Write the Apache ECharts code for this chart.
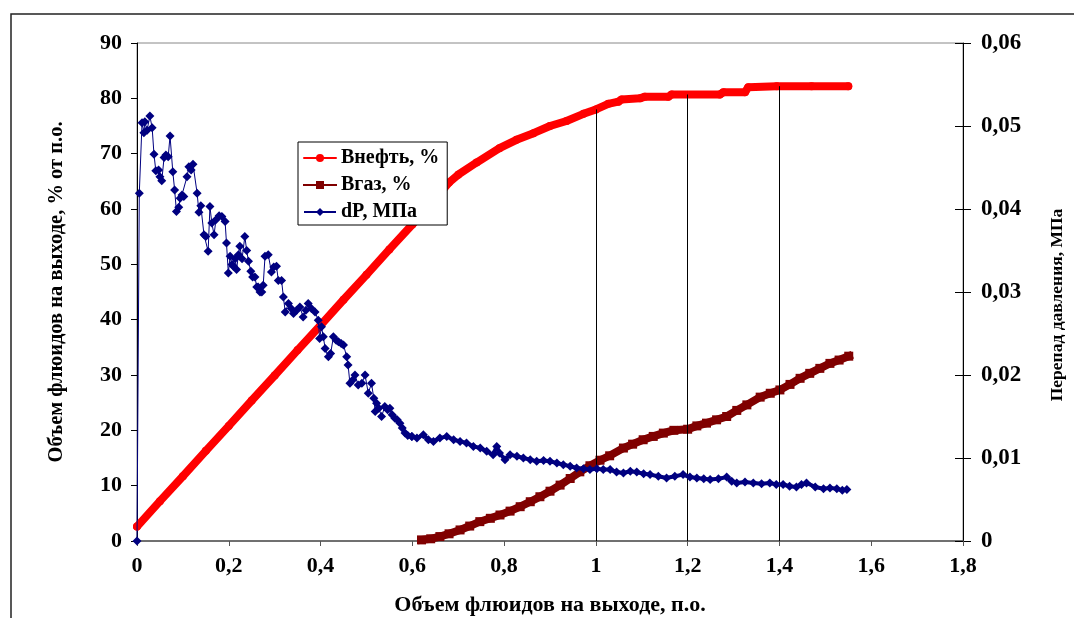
<!DOCTYPE html>
<html>
<head>
<meta charset="utf-8">
<script src="https://cdn.jsdelivr.net/npm/echarts@6/dist/echarts.min.js"></script>
<style>
  html, body { margin: 0; padding: 0; background: #fff; }
  #chart { width: 1074px; height: 618px; }
</style>
</head>
<body>
<div id="chart"></div>
<script>
// oil recovery, % (left axis)
const oilX = [0, 0.05, 0.1, 0.15, 0.2, 0.25, 0.3, 0.35, 0.4, 0.45, 0.5, 0.55, 0.6, 0.65, 0.68, 0.7, 0.74, 0.79, 0.827, 0.864, 0.9, 0.936, 0.973, 1.0, 1.027, 1.049, 1.056, 1.096, 1.107, 1.158, 1.165, 1.27, 1.278, 1.325, 1.332, 1.394, 1.47, 1.55];
const oilY = [2.6, 7.2, 11.7, 16.3, 20.8, 25.4, 29.9, 34.5, 39.0, 43.6, 48.1, 52.7, 57.2, 61.8, 64.8, 66.2, 68.4, 71.0, 72.5, 73.7, 75.0, 75.9, 77.2, 78.0, 79.0, 79.4, 79.8, 80.0, 80.3, 80.3, 80.7, 80.7, 81.1, 81.1, 82.0, 82.2, 82.2, 82.2];

// gas, % (left axis)
const gasX = [0.62, 0.64, 0.66, 0.68, 0.704, 0.725, 0.747, 0.77, 0.791, 0.813, 0.835, 0.857, 0.878, 0.9, 0.922, 0.944, 0.965, 0.987, 1.009, 1.03, 1.06, 1.08, 1.103, 1.125, 1.147, 1.17, 1.2, 1.22, 1.241, 1.263, 1.285, 1.307, 1.329, 1.358, 1.38, 1.401, 1.423, 1.445, 1.466, 1.488, 1.51, 1.53, 1.551];
const gasY = [0.2, 0.4, 0.8, 1.3, 2.0, 2.7, 3.5, 4.1, 4.7, 5.4, 6.2, 7.1, 8.0, 9.0, 10.1, 11.3, 12.5, 13.6, 14.6, 15.4, 16.8, 17.5, 18.3, 18.9, 19.5, 20.0, 20.2, 20.8, 21.3, 21.9, 22.5, 23.6, 24.6, 26.0, 26.7, 27.3, 28.3, 29.4, 30.3, 31.2, 32.1, 32.7, 33.4];

// pressure drop, MPa (right axis) - noisy first part
const dpX1 = [0, 0.005, 0.011, 0.015, 0.017, 0.022, 0.028, 0.033, 0.037, 0.041, 0.047, 0.05, 0.054, 0.059, 0.063, 0.068, 0.072, 0.078, 0.082, 0.086, 0.091, 0.094, 0.098, 0.102, 0.109, 0.113, 0.118, 0.122, 0.131, 0.135, 0.139, 0.146, 0.15, 0.155, 0.159, 0.163, 0.168, 0.172, 0.179, 0.185, 0.192, 0.195, 0.199, 0.203, 0.207, 0.21, 0.214, 0.217, 0.221, 0.224, 0.229, 0.235, 0.239, 0.243, 0.248, 0.252, 0.257, 0.261, 0.264, 0.268, 0.272, 0.275, 0.279, 0.286, 0.293, 0.298, 0.304, 0.308, 0.315, 0.319, 0.323, 0.33, 0.336, 0.341, 0.348, 0.355, 0.362, 0.368, 0.373, 0.38, 0.388, 0.395, 0.398, 0.402, 0.406, 0.41, 0.417, 0.422, 0.428, 0.434, 0.439, 0.445, 0.45, 0.457, 0.46, 0.464, 0.47, 0.475, 0.482, 0.49, 0.497, 0.504, 0.511, 0.516, 0.519, 0.522, 0.527, 0.533, 0.54, 0.546, 0.551, 0.556, 0.562, 0.567, 0.573, 0.578, 0.584, 0.59, 0.599];
const dpY1 = [0, 0.0419, 0.0504, 0.0492, 0.0505, 0.0495, 0.0512, 0.0498, 0.0466, 0.0446, 0.0447, 0.0439, 0.0434, 0.0462, 0.0465, 0.0463, 0.0488, 0.0445, 0.0423, 0.0397, 0.0402, 0.0413, 0.0417, 0.0415, 0.0439, 0.0451, 0.0447, 0.0454, 0.0419, 0.0396, 0.0404, 0.0369, 0.0367, 0.0349, 0.0403, 0.0383, 0.0369, 0.0387, 0.0392, 0.0391, 0.0385, 0.0359, 0.0323, 0.0343, 0.0333, 0.0331, 0.034, 0.0327, 0.0345, 0.0355, 0.034, 0.0367, 0.035, 0.0337, 0.0325, 0.0318, 0.0318, 0.0306, 0.0306, 0.03, 0.03, 0.0308, 0.0343, 0.0345, 0.0324, 0.033, 0.0331, 0.0314, 0.0314, 0.0294, 0.0276, 0.0286, 0.028, 0.0274, 0.0278, 0.0282, 0.027, 0.0278, 0.0286, 0.028, 0.0276, 0.0266, 0.0244, 0.0258, 0.0246, 0.0232, 0.0222, 0.0226, 0.0246, 0.0242, 0.024, 0.0238, 0.0236, 0.0222, 0.0212, 0.019, 0.0194, 0.02, 0.0188, 0.019, 0.02, 0.0178, 0.019, 0.0172, 0.0156, 0.0166, 0.016, 0.015, 0.0162, 0.0158, 0.016, 0.0152, 0.0148, 0.0146, 0.0142, 0.0136, 0.013, 0.0127, 0.0126];
// pressure drop - dense, smoother tail
const dpX2 = [0.599, 0.61, 0.624, 0.635, 0.646, 0.66, 0.675, 0.69, 0.704, 0.718, 0.733, 0.748, 0.762, 0.776, 0.784, 0.79, 0.802, 0.813, 0.828, 0.842, 0.857, 0.871, 0.886, 0.9, 0.915, 0.929, 0.944, 0.958, 0.973, 0.987, 1.002, 1.016, 1.031, 1.045, 1.06, 1.075, 1.089, 1.104, 1.118, 1.136, 1.154, 1.172, 1.19, 1.205, 1.22, 1.235, 1.249, 1.267, 1.285, 1.296, 1.307, 1.325, 1.343, 1.361, 1.379, 1.393, 1.408, 1.422, 1.437, 1.448, 1.459, 1.478, 1.496, 1.51, 1.525, 1.537, 1.547];
const dpY2 = [0.0126, 0.0124, 0.0128, 0.0122, 0.012, 0.0124, 0.0126, 0.0122, 0.012, 0.0118, 0.0114, 0.0112, 0.0108, 0.0104, 0.0114, 0.0106, 0.0098, 0.0104, 0.0102, 0.01, 0.0098, 0.0096, 0.0097, 0.0096, 0.0094, 0.0092, 0.009, 0.0088, 0.0087, 0.0086, 0.0087, 0.0086, 0.0086, 0.0083, 0.0082, 0.0084, 0.0083, 0.0081, 0.008, 0.0078, 0.0076, 0.0078, 0.008, 0.0077, 0.0076, 0.0075, 0.0074, 0.0075, 0.0077, 0.0072, 0.007, 0.0071, 0.007, 0.0069, 0.007, 0.0068, 0.0068, 0.0066, 0.0065, 0.0068, 0.007, 0.0065, 0.0063, 0.0064, 0.0063, 0.0061, 0.0062];

// vertical drop lines from the x axis up to the oil curve
const dropX = [1.0, 1.2, 1.4];
const dropY = [78.0, 80.7, 82.2];

const seriesNames = ["Внефть, %", "Вгаз, %", "dP, МПа"];

const zip = (xs, ys) => xs.map((x, i) => [x, ys[i]]);
const FONT = "'Liberation Serif', 'Times New Roman', serif";

const chart = echarts.init(document.getElementById("chart"));

const option = {
  animation: false,
  backgroundColor: "#fff",
  textStyle: { fontFamily: FONT },
  graphic: [
    {
      type: "rect",
      z: -10,
      shape: { x: 11, y: 14, width: 1100, height: 700 },
      style: { fill: "none", stroke: "#222", lineWidth: 1.5 },
    },
  ],
  grid: {
    left: 137,
    right: 111,
    top: 43,
    bottom: 77,
    containLabel: false,
    outerBoundsMode: "none",
    show: true,
    borderColor: "#888",
    borderWidth: 1,
  },
  legend: {
    data: seriesNames,
    orient: "vertical",
    left: 298,
    top: 142,
    padding: [6, 8, 3, 5],
    itemGap: 7,
    itemWidth: 32,
    itemHeight: 10,
    backgroundColor: "#fff",
    borderColor: "#000",
    borderWidth: 1,
    lineStyle: { width: 2 },
    textStyle: { fontFamily: FONT, fontWeight: "bold", fontSize: 20, color: "#000", lineHeight: 20 },
    z: 10,
  },
  xAxis: {
    type: "value",
    min: 0,
    max: 1.8,
    interval: 0.2,
    name: "Объем флюидов на выходе, п.о.",
    nameLocation: "middle",
    nameGap: 53,
    nameTextStyle: { fontFamily: FONT, fontWeight: "bold", fontSize: 22, color: "#000" },
    axisLine: { lineStyle: { color: "#555", width: 1.5 } },
    axisTick: { length: 5, lineStyle: { color: "#555" } },
    axisLabel: {
      margin: 14,
      fontFamily: FONT,
      fontWeight: "bold",
      fontSize: 22,
      color: "#000",
      formatter: (v) => String(+v.toFixed(1)).replace(".", ","),
    },
    splitLine: { show: false },
  },
  yAxis: [
    {
      type: "value",
      min: 0,
      max: 90,
      interval: 10,
      position: "left",
      name: "Объем флюидов на выходе, % от п.о.",
      nameLocation: "middle",
      nameGap: 70,
      nameRotate: 90,
      nameTextStyle: { fontFamily: FONT, fontWeight: "bold", fontSize: 20.5, color: "#000" },
      axisLine: { show: true, lineStyle: { color: "#000", width: 1 } },
      axisTick: { show: true, length: 6, lineStyle: { color: "#000" } },
      axisLabel: { margin: 15, fontFamily: FONT, fontWeight: "bold", fontSize: 22, color: "#000" },
      splitLine: { show: false },
    },
    {
      type: "value",
      min: 0,
      max: 0.06,
      interval: 0.01,
      position: "right",
      name: "Перепад давления, МПа",
      nameLocation: "middle",
      nameGap: 85,
      nameRotate: 90,
      nameTextStyle: { fontFamily: FONT, fontWeight: "bold", fontSize: 17.5, color: "#000", padding: [0, 26, 0, 0] },
      axisLine: { show: true, lineStyle: { color: "#000", width: 1 } },
      axisTick: { show: true, length: 8, lineStyle: { color: "#000" } },
      axisLabel: {
        margin: 18,
        fontFamily: FONT,
        fontWeight: "bold",
        fontSize: 23,
        color: "#000",
        formatter: (v) => String(+v.toFixed(2)).replace(".", ","),
      },
      splitLine: { show: false },
    },
    {
      // inner half of the crossing ticks on the right axis
      type: "value",
      min: 0,
      max: 0.06,
      interval: 0.01,
      position: "right",
      axisLine: { show: false },
      axisTick: { show: true, inside: true, length: 8, lineStyle: { color: "#000" } },
      axisLabel: { show: false },
      splitLine: { show: false },
    },
  ],
  series: [
    {
      name: seriesNames[0],
      type: "line",
      data: zip(oilX, oilY),
      yAxisIndex: 0,
      symbol: "circle",
      symbolSize: 8,
      color: "#ff0000",
      lineStyle: { width: 8, color: "#ff0000", cap: "round", join: "round" },
      z: 3,
      markLine: {
        silent: true,
        symbol: "none",
        label: { show: false },
        lineStyle: { color: "#000", width: 1, type: "solid" },
        data: dropX.map((x, i) => [{ coord: [x, 0] }, { coord: [x, dropY[i]] }]),
      },
    },
    {
      name: seriesNames[1],
      type: "line",
      data: zip(gasX, gasY),
      yAxisIndex: 0,
      symbol: "rect",
      symbolSize: 9,
      color: "#800000",
      lineStyle: { width: 8, color: "#800000", cap: "square", join: "miter" },
      z: 4,
    },
    {
      name: seriesNames[2],
      type: "line",
      data: zip(dpX1, dpY1),
      yAxisIndex: 1,
      symbol: "diamond",
      symbolSize: 9,
      color: "#000080",
      lineStyle: { width: 1, color: "#000080" },
      z: 5,
    },
    {
      name: seriesNames[2],
      type: "line",
      data: zip(dpX2, dpY2),
      yAxisIndex: 1,
      symbol: "diamond",
      symbolSize: 9,
      color: "#000080",
      lineStyle: { width: 4, color: "#000080" },
      z: 5,
    },
  ],
};

chart.setOption(option);
</script>
</body>
</html>
